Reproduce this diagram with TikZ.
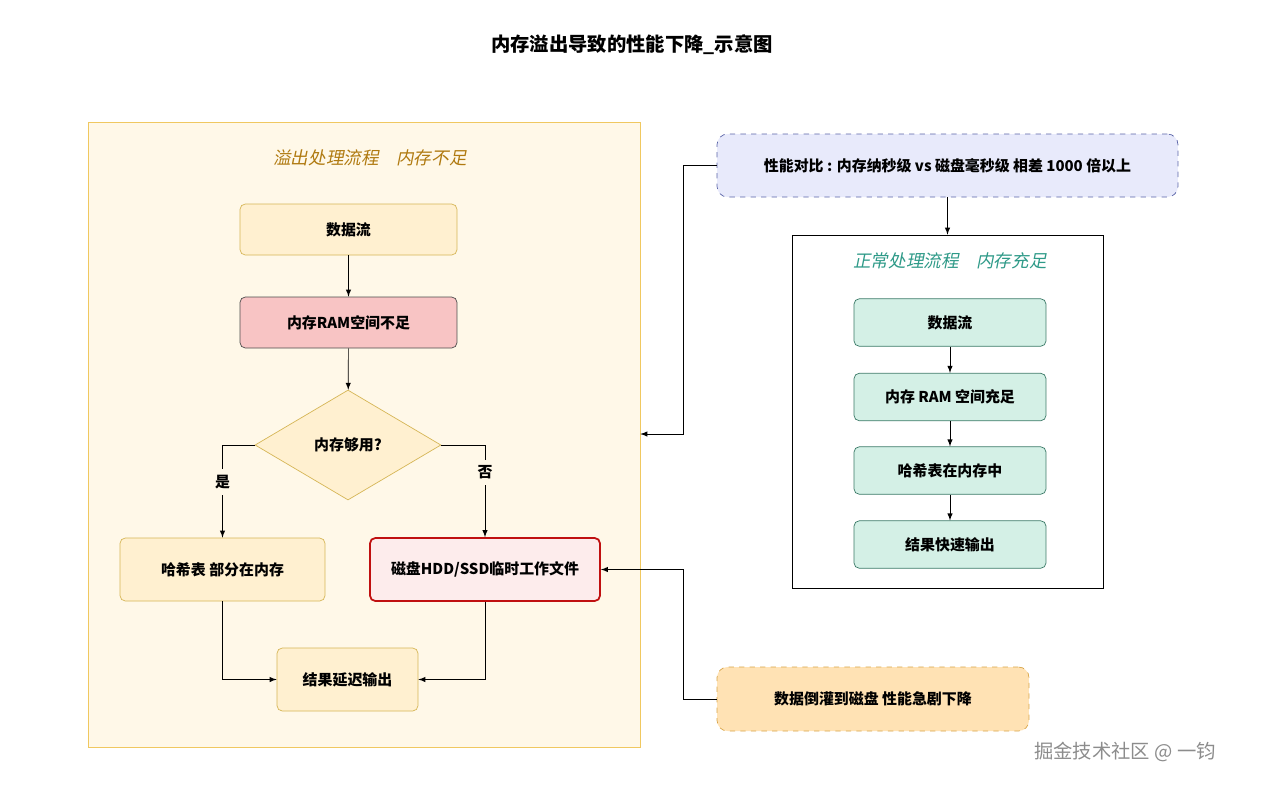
\documentclass[tikz,border=0pt]{standalone}
\usepackage{fontspec}
\setmainfont{Noto Sans CJK SC}[AutoFakeSlant=0.2]
\usetikzlibrary{shapes,arrows,positioning}

\definecolor{creambg}{HTML}{FFF8E8}
\definecolor{creamln}{HTML}{F0C860}
\definecolor{yelfill}{HTML}{FFF0D0}
\definecolor{yelln}{HTML}{D6B656}
\definecolor{pinkfill}{HTML}{F8C4C4}
\definecolor{diskfill}{HTML}{FDECEC}
\definecolor{diskln}{HTML}{C01010}
\definecolor{bluefill}{HTML}{E8EAFB}
\definecolor{blueln}{HTML}{5A64A8}
\definecolor{greenfill}{HTML}{D4F0E6}
\definecolor{greenln}{HTML}{3C7A68}
\definecolor{orgfill}{HTML}{FFE2B4}
\definecolor{orgln}{HTML}{D8A448}
\definecolor{titlebrown}{HTML}{B07A10}
\definecolor{titleteal}{HTML}{2E9A88}

\begin{document}
\begin{tikzpicture}[
        x=0.02cm,y=-0.02cm,
        font=\fontsize{8.5pt}{10pt}\selectfont\bfseries,
        box/.style={
          draw,
          rounded corners=3pt,
          align=center,
          inner sep=0
          },
        ybox/.style={box,fill=yelfill,draw=yelln},
        gbox/.style={box,fill=greenfill,draw=greenln,minimum width=3.84cm,minimum height=0.95cm},
        note/.style={box,dashed,rounded corners=6pt},
        grp/.style={draw,inner sep=0},
        grptitle/.style={font=\fontsize{10pt}{12pt}\selectfont\itshape},
        >=latex
        ]
        \useasboundingbox (0,0) rectangle (1265,789);
        \node[font=\fontsize{11pt}{13pt}\selectfont\bfseries] (title) at (632,45) {内存溢出导致的性能下降\_示意图};

        % left group
        \node[grp,fill=creambg,draw=creamln,minimum width=11.04cm,minimum height=12.5cm] (left) at (364,434.5) {};
        \node[grptitle,text=titlebrown] (ltitle) at (370,158) {溢出处理流程\quad 内存不足};
        \node[ybox,minimum width=4.34cm,minimum height=1.02cm] (flow) at (348.5,229.5) {数据流};
        \node[box,fill=pinkfill,draw=black!70,minimum width=4.34cm,minimum height=1.02cm] (ram) at (348.5,322.5) {内存RAM空间不足};
        \node[draw=yelln,fill=yelfill,diamond,aspect=1.7,minimum width=3.72cm,minimum height=2.2cm,inner sep=0] (check) at (348,445) {内存够用?};
        \node[ybox,minimum width=4.1cm,minimum height=1.26cm] (hash) at (222.5,569.5) {哈希表 部分在内存};
        \node[box,fill=diskfill,draw=diskln,line width=1pt,minimum width=4.6cm,minimum height=1.26cm] (disk) at (485,569.5) {磁盘HDD/SSD临时工作文件};
        \node[ybox,minimum width=2.82cm,minimum height=1.26cm] (slow) at (347.5,679.5) {结果延迟输出};

        \draw[->] (flow) -- (ram);
        \draw[->] (ram) -- (check);
        \draw[->] (check.west) -| node[pos=0.7,fill=creambg] {是} (hash.north);
        \draw[->] (check.east) -| node[pos=0.65,fill=creambg] {否} (disk.north);
        \draw[->] (hash.south) |- (slow.west);
        \draw[->] (disk.south) |- (slow.east);

        % right side
        \node[note,fill=bluefill,draw=blueln,minimum width=9.22cm,minimum height=1.26cm] (cmp) at (947.5,165.5) {性能对比 : 内存纳秒级 vs 磁盘毫秒级 相差 1000 倍以上};
        \node[grp,fill=white,draw=black,minimum width=6.22cm,minimum height=7.06cm] (right) at (947.5,411.5) {};
        \node[grptitle,text=titleteal] (rtitle) at (950,261) {正常处理流程\quad 内存充足};
        \node[gbox] (gflow) at (950,322.5) {数据流};
        \node[gbox] (gram) at (950,397) {内存 RAM 空间充足};
        \node[gbox] (ghash) at (950,470.5) {哈希表在内存中};
        \node[gbox] (gout) at (950,544.5) {结果快速输出};
        \foreach \a/\b in {gflow/gram,gram/ghash,ghash/gout}
          \draw[->] (\a) -- (\b);
        \draw[->] (cmp) -- (right.north -| cmp);

        \node[note,fill=orgfill,draw=orgln,minimum width=6.24cm,minimum height=1.28cm] (spill) at (873,699) {数据倒灌到磁盘 性能急剧下降};

        \coordinate (cmpbend) at (683,165.5);
        \coordinate (spillbend) at (683,699);
        \draw[->] (cmp.west) -- (cmpbend) |- (left.east |- 0,434);
        \draw[->] (spill.west) -- (spillbend) |- (disk.east);

        \node[font=\fontsize{11pt}{13pt}\selectfont,text=black!45] (mark) at (1125,752) {掘金技术社区 @ 一钧};
\end{tikzpicture}
\end{document}
